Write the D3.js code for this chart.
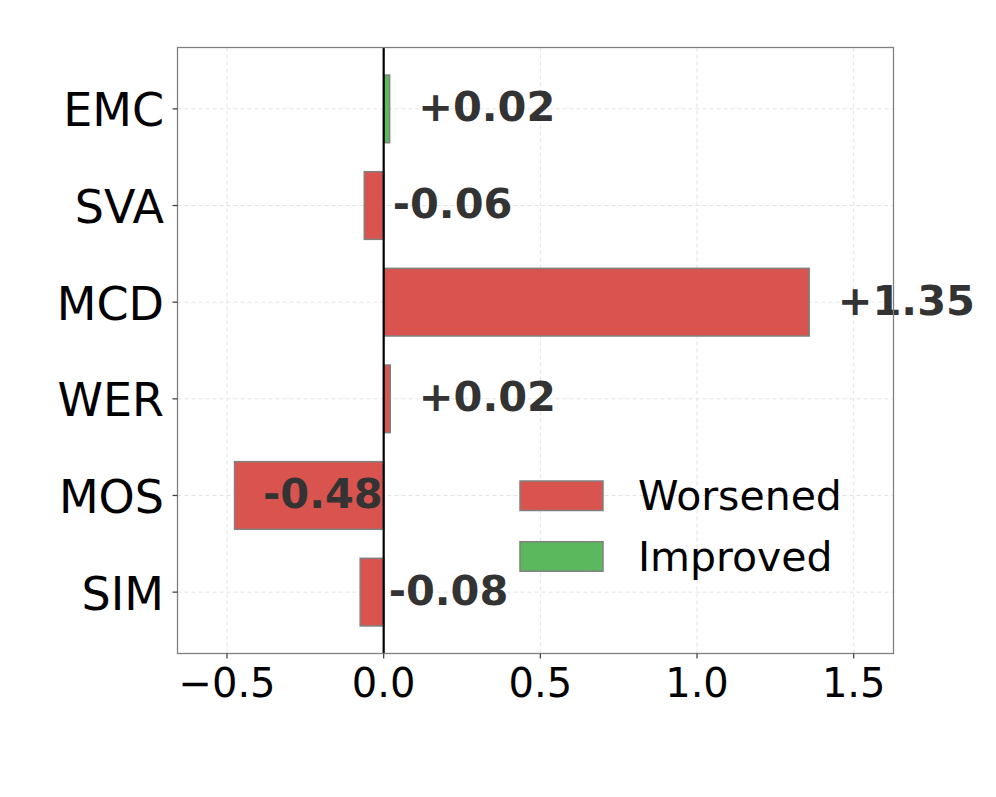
<!DOCTYPE html>
<html>
<head>
<meta charset="utf-8">
<script src="https://cdn.jsdelivr.net/npm/d3@7"></script>
<style>
  body { margin: 0; background: #fff; }
  svg { font-family: 'DejaVu Sans', sans-serif; }
</style>
</head>
<body>
<div id="chart"></div>
<script>
var metrics = ['EMC', 'SVA', 'MCD', 'WER', 'MOS', 'SIM'];
var deltas = [0.019, -0.062, 1.358, 0.021, -0.476, -0.075];
var deltaLabels = ['+0.02', '-0.06', '+1.35', '+0.02', '-0.48', '-0.08'];
var improved = [true, false, false, false, false, false];
var xTicks = [-0.5, 0, 0.5, 1.0, 1.5];
var legendItems = ['Worsened', 'Improved'];

var width = 996, height = 797;
var pLeft = 177.5, pRight = 893.5, pTop = 47.5, pBottom = 653.5;
var red = '#d9534f', green = '#5cb85c', edge = '#808080';

var svg = d3.select('#chart').append('svg')
  .attr('width', width)
  .attr('height', height);

var x = d3.scaleLinear().domain([-0.658, 1.627]).range([pLeft, pRight]);
var y = d3.scaleLinear().domain([-0.635, 5.635]).range([pTop, pBottom]);
var bh = y(0.7) - y(0);

var g = svg.append('g');

// grid
g.selectAll('.vgrid').data(xTicks).enter().append('line')
  .attr('x1', function(d) { return x(d); })
  .attr('x2', function(d) { return x(d); })
  .attr('y1', pTop).attr('y2', pBottom)
  .style('stroke', '#e3e3e3')
  .style('stroke-width', 1)
  .style('stroke-dasharray', '4,3');
g.selectAll('.hgrid').data(metrics).enter().append('line')
  .attr('x1', pLeft).attr('x2', pRight)
  .attr('y1', function(d, i) { return y(i); })
  .attr('y2', function(d, i) { return y(i); })
  .style('stroke', '#e3e3e3')
  .style('stroke-width', 1)
  .style('stroke-dasharray', '4,3');

// bars
g.selectAll('.bar').data(deltas).enter().append('rect')
  .attr('x', function(d) { return x(Math.min(0, d)); })
  .attr('width', function(d) { return Math.abs(x(d) - x(0)); })
  .attr('y', function(d, i) { return y(i) - bh / 2; })
  .attr('height', bh)
  .style('fill', function(d, i) { return improved[i] ? green : red; })
  .style('stroke', edge)
  .style('stroke-width', 1.5);

// zero line
g.append('line')
  .attr('x1', x(0)).attr('x2', x(0))
  .attr('y1', pTop).attr('y2', pBottom)
  .style('stroke', '#000')
  .style('stroke-width', 2.2);

// value labels
g.selectAll('.val').data(deltas).enter().append('text')
  .attr('x', function(d) { return x(d + 0.091); })
  .attr('y', function(d, i) { return y(i) + 12.5; })
  .text(function(d, i) { return deltaLabels[i]; })
  .style('font-size', '41.5px')
  .style('font-weight', 'bold')
  .style('fill', '#333333');

// frame
g.append('rect')
  .attr('x', pLeft).attr('y', pTop)
  .attr('width', pRight - pLeft).attr('height', pBottom - pTop)
  .style('fill', 'none')
  .style('stroke', edge)
  .style('stroke-width', 1.3);

// x ticks
g.selectAll('.xt').data(xTicks).enter().append('line')
  .attr('x1', function(d) { return x(d); })
  .attr('x2', function(d) { return x(d); })
  .attr('y1', pBottom).attr('y2', pBottom + 5)
  .style('stroke', '#444')
  .style('stroke-width', 1.3);
g.selectAll('.xl').data(xTicks).enter().append('text')
  .attr('x', function(d) { return x(d); })
  .attr('y', 697)
  .style('text-anchor', 'middle')
  .style('font-size', '40px')
  .style('fill', '#000')
  .text(function(d) { return d < 0 ? '\u2212' + Math.abs(d).toFixed(1) : d.toFixed(1); });

// y ticks
g.selectAll('.yt').data(metrics).enter().append('line')
  .attr('x1', pLeft - 5).attr('x2', pLeft)
  .attr('y1', function(d, i) { return y(i); })
  .attr('y2', function(d, i) { return y(i); })
  .style('stroke', '#444')
  .style('stroke-width', 1.3);
g.selectAll('.yl').data(metrics).enter().append('text')
  .attr('x', pLeft - 13.5)
  .attr('y', function(d, i) { return y(i) + 17.5; })
  .style('text-anchor', 'end')
  .style('font-size', '46px')
  .style('fill', '#000')
  .text(function(d) { return d; });

// legend
var leg = g.selectAll('.leg').data(legendItems).enter().append('g')
  .attr('transform', function(d, i) { return 'translate(520,' + (481 + i * 60.7) + ')'; });
leg.append('rect')
  .attr('width', 83).attr('height', 29.5)
  .style('fill', function(d, i) { return i === 0 ? red : green; })
  .style('stroke', edge)
  .style('stroke-width', 1.5);
leg.append('text')
  .attr('x', 118).attr('y', 29)
  .style('font-size', '41px')
  .style('fill', '#000')
  .text(function(d) { return d; });
</script>
</body>
</html>
